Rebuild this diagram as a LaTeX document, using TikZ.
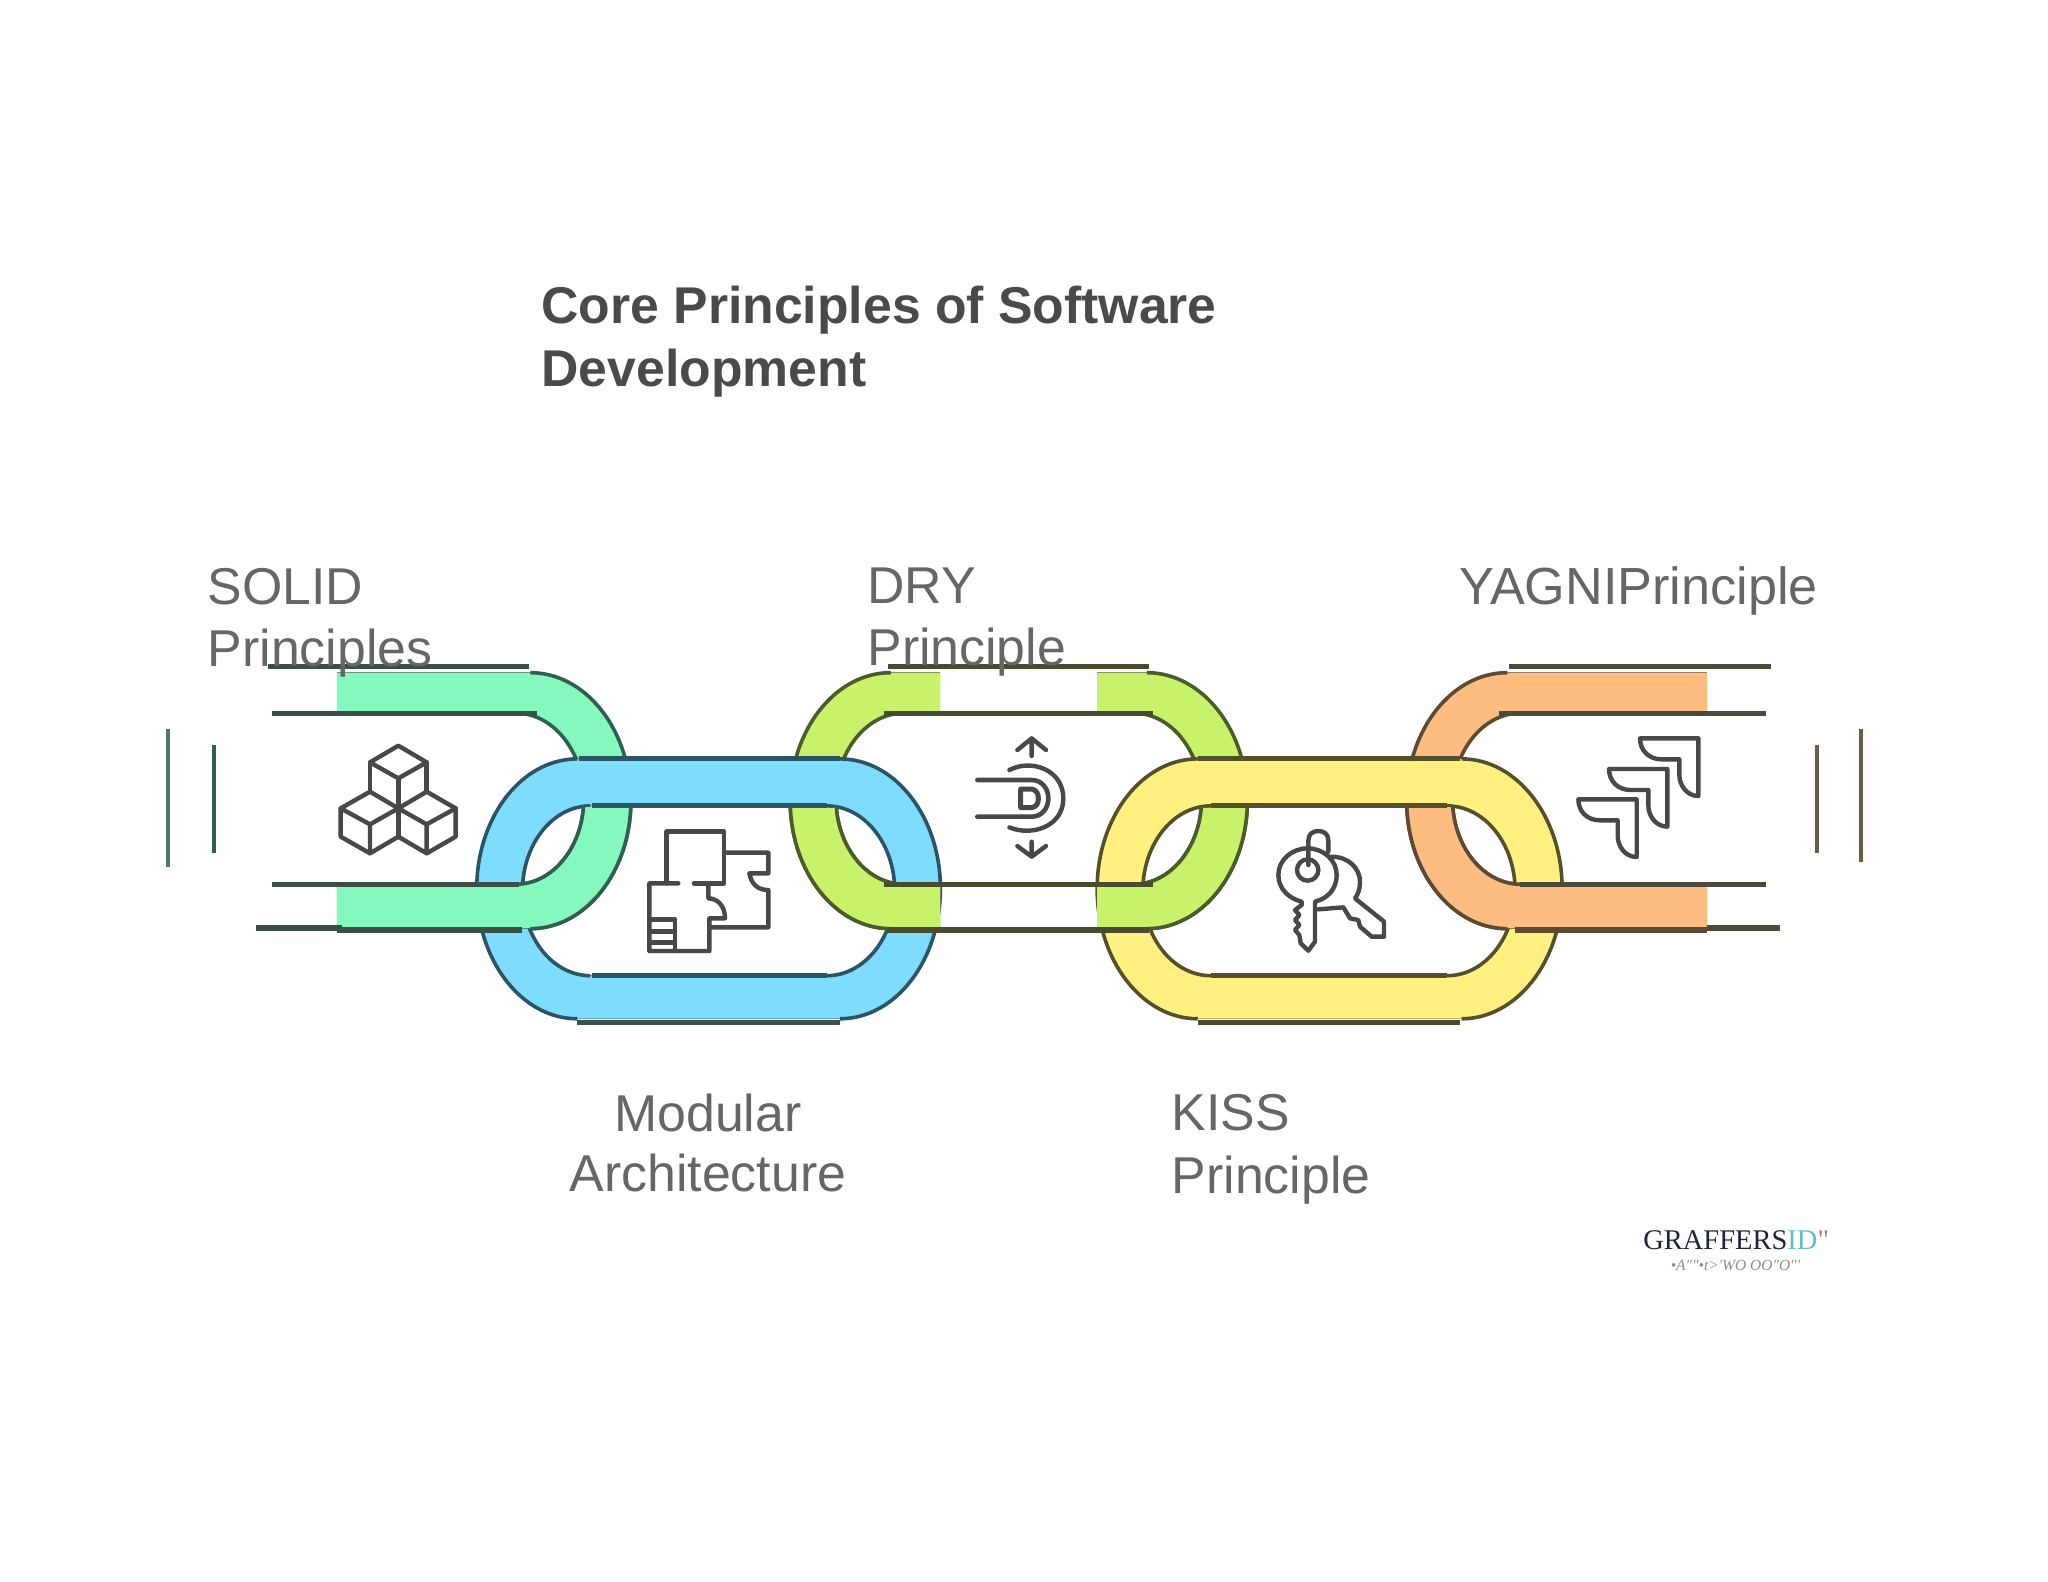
\documentclass[tikz,border=0pt]{standalone}
\usepackage{fontspec}
\setmainfont{Liberation Sans}
\newfontfamily\lserif{Liberation Serif}
\definecolor{gfill}{HTML}{85F8BE}
\definecolor{gline}{HTML}{2F5F52}
\definecolor{grail}{HTML}{3A4F48}
\definecolor{bfill}{HTML}{7EDCFC}
\definecolor{bline}{HTML}{2B5566}
\definecolor{brail}{HTML}{3F4F4E}
\definecolor{lfill}{HTML}{C8F26A}
\definecolor{lline}{HTML}{4C5A2C}
\definecolor{lrail}{HTML}{4A4A30}
\definecolor{yfill}{HTML}{FFF080}
\definecolor{yline}{HTML}{54502A}
\definecolor{yrail}{HTML}{4C4A30}
\definecolor{ofill}{HTML}{FDBD80}
\definecolor{oline}{HTML}{5C4A32}
\definecolor{orail}{HTML}{4C4A3C}
\definecolor{labelgrey}{HTML}{666666}
\definecolor{titlegrey}{HTML}{4A4A4A}
\definecolor{icongrey}{HTML}{484848}
\definecolor{logonavy}{HTML}{20253F}
\definecolor{logoteal}{HTML}{62BCC9}
\definecolor{logogrey}{HTML}{8C8C8C}
\def\ro{77}
\def\ri{52}
% right / left half of a stadium: xl xr yt yb rx
\newcommand\arcR[5]{({#2-#5},#3) .. controls ({#2-0.4477*#5},#3) and (#2,{#3+0.4477*(#4-#3)/2}) .. (#2,{(#3+#4)/2}) .. controls (#2,{#4-0.4477*(#4-#3)/2}) and ({#2-0.4477*#5},#4) .. ({#2-#5},#4)}
\newcommand\arcL[5]{({#1+#5},#4) .. controls ({#1+0.4477*#5},#4) and (#1,{#4-0.4477*(#4-#3)/2}) .. (#1,{(#3+#4)/2}) .. controls (#1,{#3+0.4477*(#4-#3)/2}) and ({#1+0.4477*#5},#3) .. ({#1+#5},#3)}
% style, outer xl xr yt yb, inner xl xr yt yb
\newcommand\band[9]{%
  \fill[#1,even odd rule] \arcR{#2}{#3}{#4}{#5}{\ro} -- \arcL{#2}{#3}{#4}{#5}{\ro} -- cycle
     \arcR{#6}{#7}{#8}{#9}{\ri} -- \arcL{#6}{#7}{#8}{#9}{\ri} -- cycle;
  \draw[#1,fill=none,arcstroke] \arcR{#2}{#3}{#4}{#5}{\ro};
  \draw[#1,fill=none,arcstroke] \arcL{#2}{#3}{#4}{#5}{\ro};
  \draw[#1,fill=none,arcstroke] \arcR{#6}{#7}{#8}{#9}{\ri};
  \draw[#1,fill=none,arcstroke] \arcL{#6}{#7}{#8}{#9}{\ri};}
\newcommand\greenlink{\band{greenlink}{100}{483}{515}{711}{100}{447}{546}{677}}
\newcommand\limelink{\band{limelink}{605}{955}{515}{711}{640}{920}{546}{677}}
\newcommand\orangelink{\band{orangelink}{1077}{1480}{515}{711}{1112}{1480}{546}{677}}
\tikzset{
  arcstroke/.style={line width=3.6pt},
  greenlink/.style={fill=gfill,draw=gline},
  bluelink/.style={fill=bfill,draw=bline},
  limelink/.style={fill=lfill,draw=lline},
  yellowlink/.style={fill=yfill,draw=yline},
  orangelink/.style={fill=ofill,draw=oline},
  rail/.style={line width=5.2pt},
  sidebar/.style={line width=4pt},
  icon/.style={draw=icongrey,line width=4.4pt,line join=round,line cap=round},
  txt/.style={inner sep=0pt,text=labelgrey,font=\fontsize{51.8}{62}\selectfont},
}
\begin{document}
\begin{tikzpicture}[x=1.3061pt,y=-1.3061pt]
\useasboundingbox[fill=white] (0,0) rectangle (1568,1211.2);
% links underneath
\begin{scope}\clip (258,400) rectangle (800,800); \greenlink \end{scope}
\begin{scope}\clip (500,400) rectangle (720,800) (840,400) rectangle (1060,800); \limelink \end{scope}
\begin{scope}\clip (1000,400) rectangle (1307,800); \orangelink \end{scope}
% links on top
\band{bluelink}{365}{720}{581}{780}{400}{685}{617}{747}
\band{yellowlink}{840}{1196}{581}{780}{875}{1160}{617}{747}
% lower parts woven back over
\begin{scope}\clip (258,618.5) rectangle (800,800); \greenlink \end{scope}
\begin{scope}\clip (500,618.5) rectangle (720,800) (840,618.5) rectangle (1060,800); \limelink \end{scope}
\begin{scope}\clip (1000,618.5) rectangle (1307,800); \orangelink \end{scope}
% straight rails
\draw[rail,grail] (205,510) -- (405,510);
\draw[rail,grail] (208,546) -- (411,546);
\draw[rail,grail] (208,677) -- (397,677);
\draw[rail,grail] (196,710.5) -- (262,710.5);
\draw[rail,grail] (258,712) -- (400,712);
\draw[rail,bline] (443,581) -- (643,581);
\draw[rail,bline] (453,617) -- (633,617);
\draw[rail,bline] (453,747) -- (633,747);
\draw[rail,brail] (442,783) -- (643,783);
\draw[rail,lrail] (680,510) -- (880,510);
\draw[rail,lrail] (677,546) -- (883,546);
\draw[rail,lrail] (677,677) -- (883,677);
\draw[rail,lrail] (680,712) -- (880,712);
\draw[rail,yline] (917,581) -- (1118,581);
\draw[rail,yline] (927,617) -- (1108,617);
\draw[rail,yline] (927,747) -- (1108,747);
\draw[rail,yrail] (917,783) -- (1118,783);
\draw[rail,orail] (1155,510) -- (1356,510);
\draw[rail,orail] (1148,546) -- (1352,546);
\draw[rail,orail] (1164,677) -- (1352,677);
\draw[rail,oline] (1160,712) -- (1307,712);
\draw[rail,orail] (1307,710.5) -- (1363,710.5);
% side bars
\draw[sidebar,gline!85!white] (129,558) -- (129,664);
\draw[sidebar,gline] (164,570) -- (164,653);
\draw[sidebar,oline!90!white] (1391,570) -- (1391,653);
\draw[sidebar,oline!90!white] (1425,558) -- (1425,660);
% cubes
\begin{scope}[shift={(320pt,-730pt)},x=0.3333pt,y=-0.3333pt]
\draw[icon] (235,47) -- (320,97) -- (235,145) -- (150,97) -- cycle;
\draw[icon] (150,97) -- (150,185) (320,97) -- (320,185) (235,145) -- (235,320);
\draw[icon] (150,185) -- (235,235) -- (150,283) -- (62,235) -- cycle;
\draw[icon] (62,235) -- (62,320) -- (150,370) -- (235,320) (150,283) -- (150,370);
\draw[icon] (320,185) -- (407,235) -- (320,283) -- (235,235) -- cycle;
\draw[icon] (407,235) -- (407,320) -- (320,370) -- (235,320) (320,283) -- (320,370);
\end{scope}
% floor plan
\begin{scope}[shift={(630pt,-810pt)},x=0.3333pt,y=-0.3333pt]
\draw[icon] (110,220) -- (110,65) -- (282,65) -- (282,220) -- (192,220);
\draw[icon] (282,128) -- (415,128) -- (415,190) -- (358,190) .. controls (365,225) and (385,240) .. (415,240) -- (415,352) -- (238,352);
\draw[icon] (145,220) -- (58,220) -- (58,423) -- (238,423) -- (238,325) -- (285,325) .. controls (285,285) and (260,265) .. (235,265) -- (235,225);
\draw[icon] (58,328) -- (135,328) -- (135,423) (58,365) -- (135,365) (58,397) -- (135,397);
\end{scope}
% DRY icon
\begin{scope}[shift={(960pt,-720pt)},x=0.3333pt,y=-0.3333pt]
\draw[icon] (215,108) -- (215,55) (172,90) -- (215,55) -- (258,90);
\draw[icon] (215,365) -- (215,410) (172,378) -- (215,410) -- (258,378);
\draw[icon,line width=4.6pt] (52,180) -- (215,180) .. controls (245,180) and (265,205) .. (265,235) .. controls (265,265) and (245,290) .. (215,290) -- (52,290);
\draw[icon] (148,150) .. controls (215,115) and (310,150) .. (310,235) .. controls (310,320) and (215,350) .. (148,322);
\draw[icon,line width=5pt] (182,207) -- (215,207) .. controls (230,210) and (235,222) .. (235,235) .. controls (235,250) and (230,260) .. (215,263) -- (182,263) -- cycle;
\end{scope}
% keys
\begin{scope}[shift={(1260pt,-820pt)},x=0.3333pt,y=-0.3333pt]
\draw[icon] (145,135) -- (145,62) .. controls (145,42) and (158,33) .. (175,33) .. controls (192,33) and (205,42) .. (205,62) -- (205,95);
\draw[icon] (125,245) .. controls (85,235) and (55,205) .. (55,165) .. controls (55,120) and (95,85) .. (143,85) .. controls (190,85) and (230,120) .. (230,165) .. controls (230,205) and (205,235) .. (165,245) -- (165,365) -- (145,392) -- (122,370) -- (118,345) -- (105,330) -- (118,315) -- (105,300) -- (118,285) -- (105,270) -- (125,255) -- cycle;
\draw[icon] (143,150) circle[radius=32];
\draw[icon] (215,110) .. controls (265,110) and (300,145) .. (300,185) .. controls (300,205) and (295,222) .. (285,235) -- (372,305) -- (372,350) -- (335,350) -- (300,320) -- (295,300) -- (270,295) -- (250,262) -- (175,268);
\end{scope}
% stepped corners
\begin{scope}[shift={(1560pt,-720pt)},x=0.3333pt,y=-0.3333pt]
\foreach \a/\b in {0/0,-93/92,-185/183}{
\draw[icon] ({240+\a},{55+\b}) -- ({415+\a},{55+\b}) -- ({415+\a},{228+\b}) .. controls ({380+\a},{228+\b}) and ({358+\a},{195+\b}) .. ({358+\a},{165+\b}) -- ({358+\a},{118+\b}) -- ({305+\a},{118+\b}) .. controls ({265+\a},{118+\b}) and ({240+\a},{90+\b}) .. ({240+\a},{55+\b}) -- cycle;
}
\end{scope}
% texts
\node[txt,anchor=north west,align=left,text=titlegrey,font=\fontsize{51.7}{62.7}\selectfont\bfseries] (title) at (414.5,219) {Core Principles of Software\\Development};
\node[txt,anchor=north west,align=left] (solid) at (159,434.8) {SOLID\\Principles};
\node[txt,anchor=north west,align=left] (dry) at (664,434.8) {DRY\\Principle};
\node[txt,anchor=base west,font=\fontsize{52.2}{62}\selectfont] (yagni) at (1117,463) {YAGNIPrinciple};
\node[txt,anchor=north,align=center,font=\fontsize{51.8}{60}\selectfont] (modular) at (542,837.3) {Modular\\Architecture};
\node[txt,anchor=north west,align=left,font=\fontsize{51.8}{62.7}\selectfont] (kiss) at (897,837.8) {KISS\\Principle};
\node[anchor=base west,inner sep=0pt,font=\fontsize{28.5}{30}\selectfont\lserif] (logo) at (1258,957) {\textcolor{logonavy}{GRAFFERS}\textcolor{logoteal}{ID}\textcolor{logogrey}{"}};
\node[anchor=base west,inner sep=0pt,text=logogrey,font=\fontsize{15.5}{18}\selectfont\lserif\itshape] (tagline) at (1279,973) {•A""•t>'WO OO"O"'};
\end{tikzpicture}
\end{document}
